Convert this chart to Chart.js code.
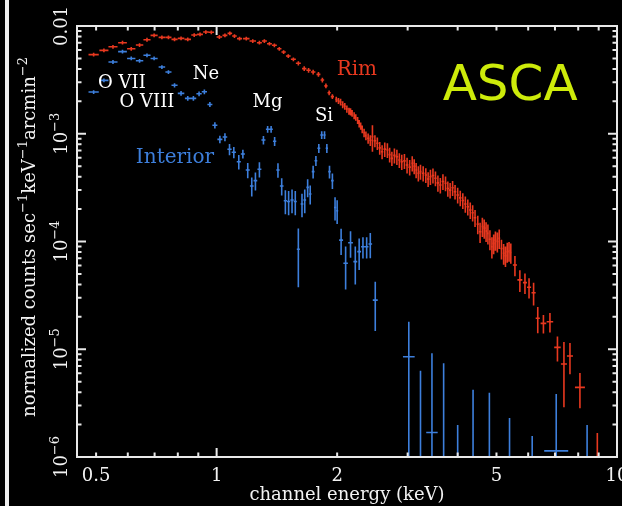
<!DOCTYPE html>
<html>
<head>
<meta charset="utf-8">
<script src="https://cdn.jsdelivr.net/npm/chart.js@4.4.1/dist/chart.umd.min.js"></script>
<style>
  html, body { margin: 0; padding: 0; background: #000; }
  #wrap { position: relative; width: 622px; height: 506px; overflow: hidden; }
  #edge { position: absolute; left: 5px; top: 0; width: 4px; height: 506px; background: #f0f0f0; }
  canvas { position: absolute; left: 0; top: 0; }
</style>
</head>
<body>
<div id="wrap">
  <canvas id="spec" width="622" height="506"></canvas>
  <div id="edge"></div>
</div>
<script>
// Rim spectrum (keV, counts/s/keV/arcmin^2, 1-sigma)
const rimEnergy = [
  0.493, 0.523, 0.551, 0.582, 0.612, 0.642, 0.670, 0.698, 0.730, 0.758,
  0.785, 0.815, 0.847, 0.879, 0.909, 0.940, 0.970, 1.016, 1.049, 1.079,
  1.108, 1.141, 1.186, 1.231, 1.279, 1.316, 1.355, 1.394, 1.434, 1.470,
  1.510, 1.555, 1.600, 1.655, 1.697, 1.742, 1.796, 1.837, 1.875, 1.910,
  1.946, 1.990, 2.015, 2.040, 2.065, 2.090, 2.115, 2.140, 2.160, 2.180,
  2.205, 2.226, 2.250, 2.270, 2.290, 2.310, 2.335, 2.360, 2.390, 2.420,
  2.450, 2.485, 2.520, 2.555, 2.590, 2.630, 2.670, 2.705, 2.740, 2.780,
  2.820, 2.860, 2.900, 2.945, 2.990, 3.035, 3.080, 3.115, 3.150, 3.190,
  3.230, 3.280, 3.330, 3.375, 3.420, 3.470, 3.520, 3.570, 3.620, 3.675,
  3.730, 3.780, 3.830, 3.885, 3.940, 4.000, 4.060, 4.120, 4.180, 4.240,
  4.300, 4.360, 4.420, 4.490, 4.550, 4.610, 4.660, 4.710, 4.760, 4.815,
  4.870, 4.920, 4.970, 5.025, 5.080, 5.145, 5.210, 5.265, 5.320, 5.375,
  5.430, 5.560, 5.720, 5.890, 6.030, 6.190, 6.340, 6.550, 6.800, 7.100,
  7.370, 7.630, 8.080, 8.930
];
const rimCounts = [
  5.42e-3, 5.94e-3, 6.42e-3, 7.00e-3, 6.15e-3, 6.66e-3, 7.46e-3, 8.19e-3, 7.85e-3, 7.85e-3,
  7.52e-3, 7.68e-3, 7.52e-3, 8.25e-3, 8.37e-3, 8.80e-3, 8.74e-3, 7.91e-3, 8.19e-3, 8.55e-3,
  8.07e-3, 7.63e-3, 7.63e-3, 7.26e-3, 7.00e-3, 7.26e-3, 6.85e-3, 6.62e-3, 6.15e-3, 5.74e-3,
  5.27e-3, 4.91e-3, 4.51e-3, 4.02e-3, 3.88e-3, 3.74e-3, 3.56e-3, 3.15e-3, 2.78e-3, 2.40e-3,
  2.21e-3, 2.08e-3, 2.02e-3, 1.97e-3, 1.86e-3, 1.80e-3, 1.70e-3, 1.62e-3, 1.60e-3, 1.55e-3,
  1.47e-3, 1.42e-3, 1.33e-3, 1.24e-3, 1.18e-3, 1.10e-3, 1.02e-3, 9.6e-4, 9.07e-4, 8.7e-4,
  9.4e-4, 8.6e-4, 8.15e-4, 7.4e-4, 6.81e-4, 7.2e-4, 7.06e-4, 6.4e-4, 5.91e-4, 6.3e-4,
  6.12e-4, 5.7e-4, 5.50e-4, 5.6e-4, 5.13e-4, 4.9e-4, 5.32e-4, 5.0e-4, 4.61e-4, 4.3e-4,
  4.45e-4, 4.3e-4, 4.14e-4, 3.8e-4, 3.99e-4, 4.1e-4, 3.86e-4, 3.5e-4, 3.34e-4, 3.6e-4,
  3.47e-4, 3.1e-4, 3.00e-4, 3.15e-4, 2.90e-4, 2.7e-4, 2.54e-4, 2.4e-4, 2.23e-4, 2.1e-4,
  1.96e-4, 1.85e-4, 1.66e-4, 1.45e-4, 1.23e-4, 1.38e-4, 1.33e-4, 1.25e-4, 1.19e-4, 1.05e-4,
  8.95e-5, 9.6e-5, 1.03e-4, 1.0e-4, 1.07e-4, 8.6e-5, 7.77e-5, 7.4e-5, 8.04e-5, 8.2e-5,
  7.90e-5, 6.05e-5, 4.40e-5, 4.15e-5, 3.76e-5, 3.35e-5, 1.94e-5, 1.74e-5, 1.80e-5, 1.04e-5,
  7.3e-6, 8.65e-6, 4.43e-6, 5.0e-7
];
const rimErr = [
  2.2e-4, 2.4e-4, 2.6e-4, 2.8e-4, 2.5e-4, 2.7e-4, 3.0e-4, 3.3e-4, 3.1e-4, 3.1e-4,
  3.0e-4, 3.1e-4, 3.0e-4, 3.3e-4, 3.3e-4, 3.5e-4, 3.5e-4, 3.2e-4, 3.3e-4, 3.4e-4,
  3.2e-4, 3.1e-4, 3.1e-4, 2.9e-4, 2.8e-4, 2.9e-4, 2.7e-4, 2.6e-4, 2.5e-4, 2.3e-4,
  2.1e-4, 2.0e-4, 2.0e-4, 2.0e-4, 1.9e-4, 1.9e-4, 1.8e-4, 1.6e-4, 1.4e-4, 1.2e-4,
  1.1e-4, 1.2e-4, 1.3e-4, 1.4e-4, 1.4e-4, 1.3e-4, 1.3e-4, 1.2e-4, 1.2e-4, 1.1e-4,
  1.1e-4, 1.0e-4, 1.0e-4, 1.0e-4, 9e-5, 9e-5, 9e-5, 9e-5, 1.0e-4, 1.0e-4,
  2.6e-4, 1.1e-4, 1.1e-4, 1.0e-4, 1.0e-4, 1.1e-4, 1.1e-4, 1.0e-4, 9e-5, 1.0e-4,
  1.0e-4, 9e-5, 9e-5, 9e-5, 8.5e-5, 8e-5, 8.5e-5, 8e-5, 7.5e-5, 7e-5,
  7e-5, 7e-5, 6.5e-5, 6e-5, 6.5e-5, 6.5e-5, 6e-5, 6e-5, 5.5e-5, 6e-5,
  5.5e-5, 5e-5, 5e-5, 5e-5, 4.5e-5, 4.5e-5, 4.2e-5, 4e-5, 3.8e-5, 3.6e-5,
  3.4e-5, 3.2e-5, 3e-5, 2.8e-5, 2.6e-5, 2.8e-5, 2.7e-5, 2.6e-5, 2.5e-5, 2.2e-5,
  2e-5, 2e-5, 2.1e-5, 2.1e-5, 2.2e-5, 1.8e-5, 1.7e-5, 1.6e-5, 1.7e-5, 1.7e-5,
  1.7e-5, 1.3e-5, 1.0e-5, 9e-6, 8e-6, 8e-6, 5.3e-6, 3.4e-6, 3.7e-6, 2.7e-6,
  4.4e-6, 2.8e-6, 1.6e-6, 1.17e-6
];

// Interior spectrum; zero-count bins only show their upper error
const intEnergy = [
  0.493, 0.523, 0.551, 0.582, 0.612, 0.642, 0.670, 0.698, 0.730, 0.758,
  0.785, 0.815, 0.847, 0.875, 0.904, 0.932, 0.962, 0.990, 1.019, 1.049,
  1.077, 1.104, 1.136, 1.163, 1.196, 1.224, 1.250, 1.279, 1.309, 1.341,
  1.368, 1.396, 1.423, 1.454, 1.485, 1.513, 1.543, 1.572, 1.600, 1.634,
  1.660, 1.688, 1.713, 1.742, 1.770, 1.800, 1.830, 1.860, 1.885, 1.914,
  1.946, 1.976, 2.000, 2.046, 2.100, 2.160, 2.220, 2.270, 2.320, 2.370,
  2.420, 2.490, 3.020, 3.230, 3.450, 3.690, 4.000, 4.370, 4.800, 5.390,
  6.140, 7.050, 8.420
];
const intCounts = [
  2.44e-3, 3.13e-3, 4.64e-3, 5.78e-3, 5.00e-3, 4.76e-3, 5.35e-3, 5.00e-3, 4.16e-3, 3.74e-3,
  2.82e-3, 2.37e-3, 2.13e-3, 2.13e-3, 2.35e-3, 2.45e-3, 1.87e-3, 1.20e-3, 8.87e-4, 9.33e-4,
  7.18e-4, 6.73e-4, 5.50e-4, 6.49e-4, 4.61e-4, 3.27e-4, 3.67e-4, 4.68e-4, 8.75e-4, 1.10e-3,
  1.10e-3, 8.51e-4, 4.61e-4, 3.27e-4, 2.39e-4, 2.35e-4, 2.43e-4, 2.35e-4, 8.47e-5, 2.23e-4,
  2.43e-4, 3.18e-4, 2.76e-4, 4.45e-4, 5.62e-4, 7.33e-4, 9.73e-4, 9.73e-4, 7.33e-4, 4.45e-4,
  3.67e-4, 2.07e-4, 1.93e-4, 1.03e-4, 6.28e-5, 9.75e-5, 6.50e-5, 8.05e-5, 8.95e-5, 8.95e-5,
  9.48e-5, 2.86e-5, 8.53e-6, 0, 1.69e-6, 0, 0, 0, 0, 0,
  0, 1.14e-6, 0
];
const intErr = [
  1.0e-4, 1.3e-4, 1.9e-4, 2.3e-4, 2.0e-4, 1.9e-4, 2.1e-4, 2.0e-4, 1.7e-4, 1.5e-4,
  1.3e-4, 1.2e-4, 1.1e-4, 1.1e-4, 1.2e-4, 1.2e-4, 1.0e-4, 8e-5, 7e-5, 8e-5,
  8.5e-5, 8e-5, 8.5e-5, 6e-5, 7.5e-5, 6.5e-5, 7e-5, 7.5e-5, 8e-5, 8e-5,
  8e-5, 8e-5, 7e-5, 6e-5, 6e-5, 6e-5, 6e-5, 6e-5, 4.7e-5, 5.5e-5,
  6e-5, 6e-5, 5.5e-5, 6e-5, 6e-5, 7e-5, 8e-5, 8e-5, 7e-5, 6e-5,
  6e-5, 5e-5, 4.8e-5, 2.8e-5, 2.7e-5, 2.7e-5, 2.5e-5, 2.6e-5, 2e-5, 2e-5,
  2.5e-5, 1.38e-5, 9.5e-6, 6.3e-6, 7.5e-6, 7.4e-6, 1.98e-6, 4.2e-6, 3.95e-6, 2.3e-6,
  1.57e-6, 2.7e-6, 1.98e-6
];

const xTicks = [0.5, 1, 2, 5, 10];
const xTickLabels = ['0.5', '1', '2', '5', '10'];
const yTicks = [1e-2, 1e-3, 1e-4, 1e-5, 1e-6];
const yTickLabels = ['0.01', '10^−3', '10^−4', '10^−5', '10^−6'];

const lineLabels = [
  { text: 'O VII', e: 0.58, v: 2.96e-3, color: '#ffffff', size: 18 },
  { text: 'O VIII', e: 0.67, v: 1.97e-3, color: '#ffffff', size: 18 },
  { text: 'Ne', e: 0.94, v: 3.59e-3, color: '#ffffff', size: 18 },
  { text: 'Mg', e: 1.34, v: 1.97e-3, color: '#ffffff', size: 18 },
  { text: 'Si', e: 1.855, v: 1.46e-3, color: '#ffffff', size: 18 },
  { text: 'Rim', e: 2.24, v: 3.9e-3, color: '#e8381f', size: 20 },
  { text: 'Interior', e: 0.787, v: 5.96e-4, color: '#3d7fdc', size: 20 }
];

const RIM_COLOR = '#e8381f';
const INT_COLOR = '#3d7fdc';
const SERIF = '"DejaVu Serif", serif';

function points(energy, counts, err) {
  return energy.map((e, i) => ({ x: e, y: counts[i], err: err[i] }));
}

// crosses: vertical = 1 sigma, horizontal = half the gap to the nearer neighbour
const errorBars = {
  id: 'errorBars',
  afterDatasetsDraw(chart) {
    const { ctx, chartArea: a, scales: { x, y } } = chart;
    ctx.save();
    ctx.beginPath();
    ctx.rect(a.left, a.top, a.right - a.left, a.bottom - a.top);
    ctx.clip();
    chart.data.datasets.forEach(ds => {
      const pts = ds.data;
      ctx.strokeStyle = ds.borderColor;
      ctx.lineWidth = 1.6;
      ctx.beginPath();
      pts.forEach((p, i) => {
        const px = x.getPixelForValue(p.x);
        const gaps = [];
        if (i > 0) gaps.push(px - x.getPixelForValue(pts[i - 1].x));
        if (i < pts.length - 1) gaps.push(x.getPixelForValue(pts[i + 1].x) - px);
        const hw = Math.min(...gaps) / 2;
        const lo = p.y - p.err;
        const top = y.getPixelForValue(p.y + p.err);
        const bot = lo > 0 ? y.getPixelForValue(lo) : a.bottom + 2;
        ctx.moveTo(px, top);
        ctx.lineTo(px, bot);
        if (p.y > y.min) {
          const py = y.getPixelForValue(p.y);
          ctx.moveTo(px - hw, py);
          ctx.lineTo(px + hw, py);
        }
      });
      ctx.stroke();
    });
    ctx.restore();
  }
};

function drawRotated(ctx, parts, xBase, yMid, size) {
  // parts: [text, isSuperscript]; drawn bottom-to-top
  const supSize = Math.round(size * 0.72);
  const widths = parts.map(([t, sup]) => {
    ctx.font = (sup ? supSize : size) + 'px ' + SERIF;
    return ctx.measureText(t).width;
  });
  const total = widths.reduce((s, w) => s + w, 0);
  ctx.save();
  ctx.translate(xBase, yMid);
  ctx.rotate(-Math.PI / 2);
  ctx.textAlign = 'left';
  ctx.textBaseline = 'alphabetic';
  let cx = -total / 2;
  parts.forEach(([t, sup], i) => {
    ctx.font = (sup ? supSize : size) + 'px ' + SERIF;
    ctx.fillText(t, cx, sup ? -size * 0.42 : 0);
    cx += widths[i];
  });
  ctx.restore();
}

const frame = {
  id: 'frame',
  afterDraw(chart) {
    const { ctx, chartArea: a, scales: { x, y } } = chart;
    ctx.save();
    ctx.strokeStyle = '#e8e8e8';
    ctx.fillStyle = '#f2f2f2';
    ctx.lineWidth = 2;
    ctx.strokeRect(a.left, a.top, a.right - a.left, a.bottom - a.top);

    ctx.beginPath();
    for (let d = -1; d <= 1; d++) {
      for (let k = 1; k <= 9; k++) {
        const v = k * Math.pow(10, d);
        if (v < x.min || v > x.max) continue;
        const px = x.getPixelForValue(v);
        const len = k === 1 ? 9 : 4.5;
        ctx.moveTo(px, a.bottom); ctx.lineTo(px, a.bottom - len);
        ctx.moveTo(px, a.top); ctx.lineTo(px, a.top + len);
      }
    }
    for (let d = -6; d <= -2; d++) {
      for (let k = 1; k <= 9; k++) {
        const v = k * Math.pow(10, d);
        if (v < y.min * 0.999 || v > y.max * 1.001) continue;
        const py = y.getPixelForValue(v);
        const len = k === 1 ? 9 : 4.5;
        ctx.moveTo(a.left, py); ctx.lineTo(a.left + len, py);
        ctx.moveTo(a.right, py); ctx.lineTo(a.right - len, py);
      }
    }
    ctx.stroke();

    // tick labels
    ctx.font = '18px ' + SERIF;
    ctx.textAlign = 'center';
    ctx.textBaseline = 'alphabetic';
    xTicks.forEach((v, i) => ctx.fillText(xTickLabels[i], x.getPixelForValue(v), a.bottom + 24));
    yTicks.forEach((v, i) => {
      const [base, exp] = yTickLabels[i].split('^');
      const parts = exp ? [[base, false], [exp, true]] : [[base, false]];
      drawRotated(ctx, parts, a.left - 10, y.getPixelForValue(v), 18);
    });

    // axis titles
    ctx.font = '18px ' + SERIF;
    ctx.textAlign = 'center';
    ctx.fillText('channel energy (keV)', (a.left + a.right) / 2, 500);
    drawRotated(ctx, [
      ['normalized counts sec', false], ['−1', true], ['keV', false], ['−1', true],
      ['arcmin', false], ['−2', true]
    ], 35, 237, 18);

    // line identifications
    ctx.textAlign = 'center';
    ctx.textBaseline = 'middle';
    lineLabels.forEach(l => {
      ctx.font = l.size + 'px ' + SERIF;
      ctx.fillStyle = l.color;
      ctx.fillText(l.text, x.getPixelForValue(l.e), y.getPixelForValue(l.v));
    });

    // instrument tag
    ctx.font = '50px "DejaVu Sans", sans-serif';
    ctx.fillStyle = '#cdeb0a';
    ctx.textBaseline = 'middle';
    ctx.fillText('ASCA', x.getPixelForValue(5.41), y.getPixelForValue(2.72e-3));
    ctx.restore();
  }
};

new Chart(document.getElementById('spec'), {
  type: 'scatter',
  data: {
    datasets: [
      { label: 'Rim', data: points(rimEnergy, rimCounts, rimErr), borderColor: RIM_COLOR, pointRadius: 0 },
      { label: 'Interior', data: points(intEnergy, intCounts, intErr), borderColor: INT_COLOR, pointRadius: 0 }
    ]
  },
  options: {
    responsive: false,
    animation: false,
    devicePixelRatio: 1,
    layout: { padding: { left: 77, right: 5, top: 26, bottom: 49 } },
    plugins: { legend: { display: false }, tooltip: { enabled: false } },
    scales: {
      x: { type: 'logarithmic', min: 0.448, max: 10, display: false },
      y: { type: 'logarithmic', min: 1e-6, max: 1e-2, display: false }
    }
  },
  plugins: [errorBars, frame]
});
</script>
</body>
</html>
